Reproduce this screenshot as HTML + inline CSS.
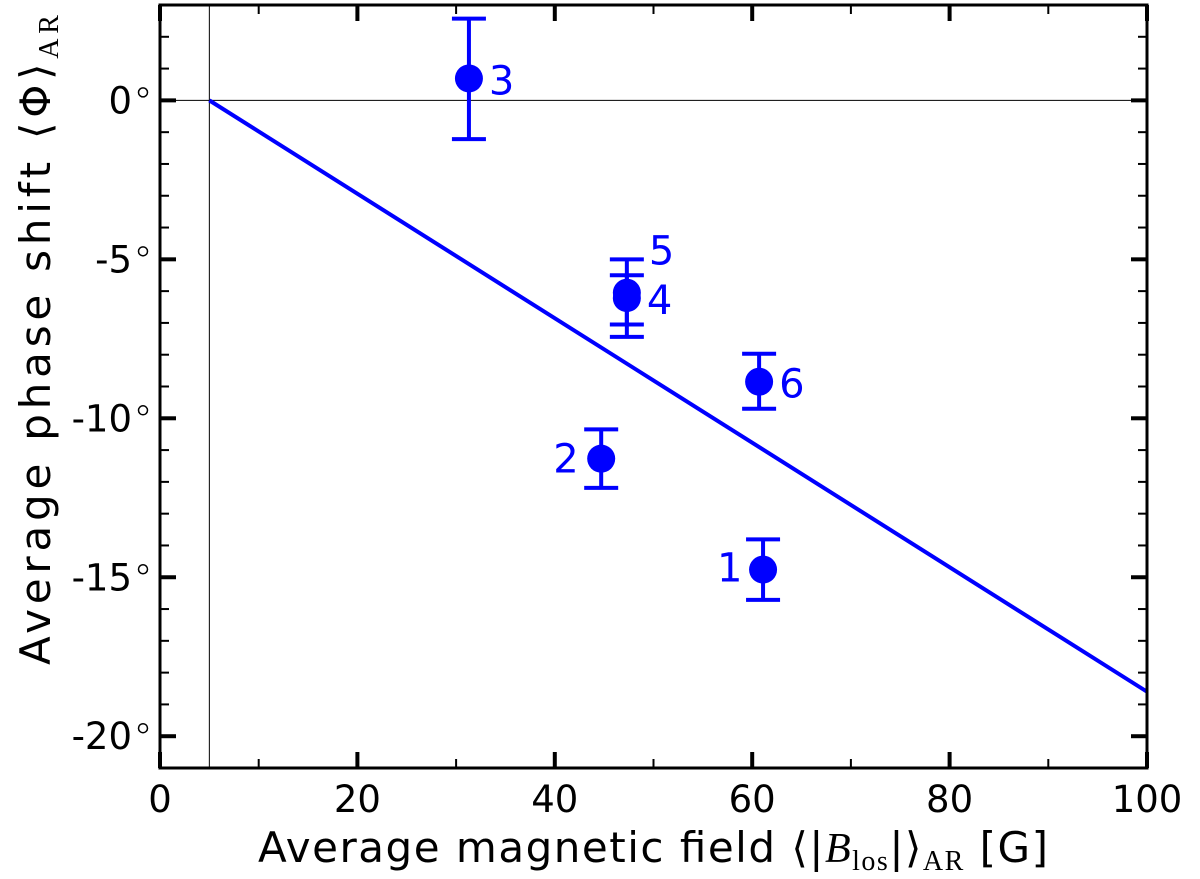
<!DOCTYPE html>
<html><head><meta charset="utf-8"><style>
html,body{margin:0;background:#fff;overflow:hidden;width:1200px;height:879px;}
svg{display:block;font-family:"DejaVu Sans","Liberation Sans",sans-serif;}
</style></head><body>
<svg id="chart" width="1200" height="879" viewBox="0 0 1200 879">
<g id="grid"></g><g id="series"></g><g id="axes"></g>
<text x="258" y="862" font-size="42" textLength="790" lengthAdjust="spacing">Average magnetic field ⟨|<tspan font-family="Liberation Serif" font-style="italic">B</tspan><tspan font-size="28" dy="8" font-family="Liberation Serif">los</tspan><tspan dy="-8">|⟩</tspan><tspan font-size="28" dy="8" font-family="Liberation Serif">AR</tspan><tspan dy="-8"> [G]</tspan></text>
<text transform="translate(50,665) rotate(-90)" font-size="42" textLength="650" lengthAdjust="spacing">Average phase shift ⟨Φ⟩<tspan font-size="28" dy="8" font-family="Liberation Serif">AR</tspan></text>
</svg>
<script>
const names = ["1","2","3","4","5","6"];
const xVals = [61.1, 44.7, 31.3, 47.3, 47.3, 60.7];
const yVals = [-14.76, -11.27, 0.69, -6.22, -6.05, -8.85];
const errUp = [0.95, 0.92, 1.88, 0.72, 1.05, 0.88];
const errDn = [0.95, 0.92, 1.91, 1.22, 1.0, 0.85];
const fitX = [5, 100];
const fitY = [0, -18.6];
const xTicks = [0,20,40,60,80,100];
const yTicks = [0,-5,-10,-15,-20];
const yTickLabels = ["0","-5","-10","-15","-20"];

const L=160,R=1147,T=5,B=768, xmin=0,xmax=100,ymin=-21,ymax=3;
const sx=v=>L+(v-xmin)/(xmax-xmin)*(R-L);
const sy=v=>B-(v-ymin)/(ymax-ymin)*(B-T);
const NS="http://www.w3.org/2000/svg";
function mk(tag,attrs,parent,text){const e=document.createElementNS(NS,tag);for(const k in attrs)e.setAttribute(k,attrs[k]);if(text!==undefined)e.textContent=text;parent.appendChild(e);return e;}
const grid=document.getElementById('grid'),ser=document.getElementById('series'),ax=document.getElementById('axes');

let e=mk('line',{x1:L,x2:R,y1:sy(0),y2:sy(0),stroke:'#000','stroke-width':1},grid);


e=mk('line',{x1:sx(5),x2:sx(5),y1:T,y2:B,stroke:'#000','stroke-width':1},grid);



e=mk('line',{x1:sx(fitX[0]),y1:sy(fitY[0]),x2:sx(fitX[1]),y2:sy(fitY[1]),stroke:'#0000ff','stroke-width':4},ser);



const labelOff={"1":[-46,12],"2":[-48,14],"3":[20,16],"4":[20,16],"5":[22,-28],"6":[20,16]};
for(let i=0;i<names.length;i++){
  const g=mk('g',{},ser);
  
  
  const x=sx(xVals[i]),y=sy(yVals[i]),yt=sy(yVals[i]+errUp[i]),yb=sy(yVals[i]-errDn[i]);
  mk('line',{x1:x,x2:x,y1:yt,y2:yb,stroke:'#0000ff','stroke-width':4},g);
  mk('line',{x1:x-17,x2:x+17,y1:yt,y2:yt,stroke:'#0000ff','stroke-width':4},g);
  mk('line',{x1:x-17,x2:x+17,y1:yb,y2:yb,stroke:'#0000ff','stroke-width':4},g);
  mk('circle',{cx:x,cy:y,r:14,fill:'#0000ff'},g);
  const o=labelOff[names[i]];
  mk('text',{x:x+o[0],y:y+o[1],fill:'#0000ff','font-size':40},g,names[i]);
}

e=mk('rect',{x:L,y:T,width:R-L,height:B-T,fill:'none',stroke:'#000','stroke-width':3},ax);


for(let v=0;v<=100;v+=10){
  const maj=v%20===0,len=maj?16:9,w=maj?4:2,x=sx(v);
  mk('line',{x1:x,x2:x,y1:B,y2:B-len,stroke:'#000','stroke-width':w},ax);
  mk('line',{x1:x,x2:x,y1:T,y2:T+len,stroke:'#000','stroke-width':w},ax);
}
for(let v=-21;v<=3;v++){
  const maj=v%5===0,len=maj?16:9,w=maj?4:2,y=sy(v);
  mk('line',{x1:L,x2:L+len,y1:y,y2:y,stroke:'#000','stroke-width':w},ax);
  mk('line',{x1:R,x2:R-len,y1:y,y2:y,stroke:'#000','stroke-width':w},ax);
}
xTicks.forEach(v=>{
  const t=mk('text',{x:sx(v),y:812,'text-anchor':'middle','font-size':37},ax,String(v));
  
  
});
yTicks.forEach((v,i)=>{
  const t=mk('text',{x:132,y:sy(v)+13,'text-anchor':'end','font-size':37},ax,yTickLabels[i]);
  
  
  const c=mk('circle',{cx:143,cy:sy(v)-8,r:4.5,fill:'none',stroke:'#000','stroke-width':1.5},ax);
  
  
});
</script>
</body></html>
